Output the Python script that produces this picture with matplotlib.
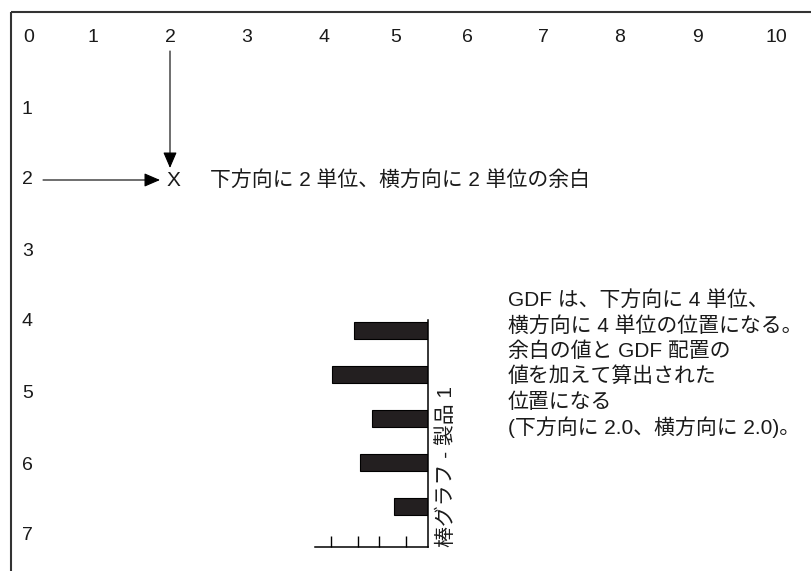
"""GDF 配置の説明図 (余白 + 棒グラフ)"""
import matplotlib
matplotlib.use("Agg")
import matplotlib.pyplot as plt

plt.rcParams["font.family"] = ["Liberation Sans", "Noto Sans CJK JP", "DejaVu Sans"]
plt.rcParams["axes.unicode_minus"] = False

# データ
col_labels = [str(i) for i in range(11)]
row_labels = [str(i) for i in range(1, 8)]
bar_values = [3.7, 4.8, 2.8, 3.4, 1.7]
bar_ticks = [1.1, 2.45, 3.5, 4.85]
chart_title = "棒グラフ - 製品 1"
margin_text = "下方向に 2 単位、横方向に 2 単位の余白"
note_lines = [
    "GDF は、下方向に 4 単位、",
    "横方向に 4 単位の位置になる。",
    "余白の値と GDF 配置の",
    "値を加えて算出された",
    "位置になる",
    "(下方向に 2.0、横方向に 2.0)。",
]

# レイアウト (ピクセル, 上から)
W, H = 812, 571
col_x = [29, 93, 170, 247, 324, 396, 467, 543, 620, 698, 776]
row_y = [109, 180, 251, 322, 394, 465, 536]
ink = "#1a1a1a"

fig = plt.figure(figsize=(W / 100, H / 100), dpi=100)
ax = fig.add_axes([0, 0, 1, 1])
ax.set_xlim(0, W)
ax.set_ylim(H, 0)
ax.axis("off")

# 枠線
ax.plot([11, W], [12, 12], color="#333333", lw=1.5, solid_capstyle="butt")
ax.plot([11, 11], [12, H], color="#333333", lw=1.5, solid_capstyle="butt")

for lab, x in zip(col_labels, col_x):
    ax.text(x, 38, lab, ha="center", va="center", fontsize=14, color=ink)
for lab, y in zip(row_labels, row_y):
    ax.text(22, y, lab, ha="left", va="center", fontsize=14, color=ink)

# 矢印
arrow = dict(arrowstyle="-|>,head_length=0.65,head_width=0.28", color="black",
             lw=0.8, mutation_scale=15, shrinkA=0, shrinkB=0)
ax.annotate("", xy=(160, row_y[1]), xytext=(43, row_y[1]), arrowprops=arrow)
ax.annotate("", xy=(col_x[2], 168), xytext=(col_x[2], 51), arrowprops=arrow)
ax.text(173, row_y[1], "X", ha="center", va="center", fontsize=15, color=ink)
ax.text(210, row_y[1], margin_text, ha="left", va="center", fontsize=15, color=ink)

# 説明文
for i, line in enumerate(note_lines):
    ax.text(508, 300 + 25.5 * i, line, ha="left", va="center", fontsize=15, color=ink)

# 棒グラフ
bx = fig.add_axes([315 / W, 1 - 547 / H, 113 / W, 227 / H])
bx.patch.set_alpha(0)
bx.barh(range(len(bar_values)), bar_values, height=0.386,
        color="#231f20", edgecolor="black", lw=0.8)
bx.set_xlim(5.65, 0)
bx.set_ylim(4.92, -0.239)
bx.spines["top"].set_visible(False)
bx.spines["left"].set_visible(False)
bx.spines["right"].set_linewidth(1.1)
bx.spines["bottom"].set_linewidth(1.1)
bx.set_yticks([])
bx.set_xticks(bar_ticks)
bx.set_xticklabels([])
bx.tick_params(axis="x", direction="in", length=8, width=1)

ax.text(446, 547, chart_title, rotation=90, ha="center", va="bottom",
        fontsize=15, color=ink)

plt.savefig("out.png", dpi=100)
plt.close()
